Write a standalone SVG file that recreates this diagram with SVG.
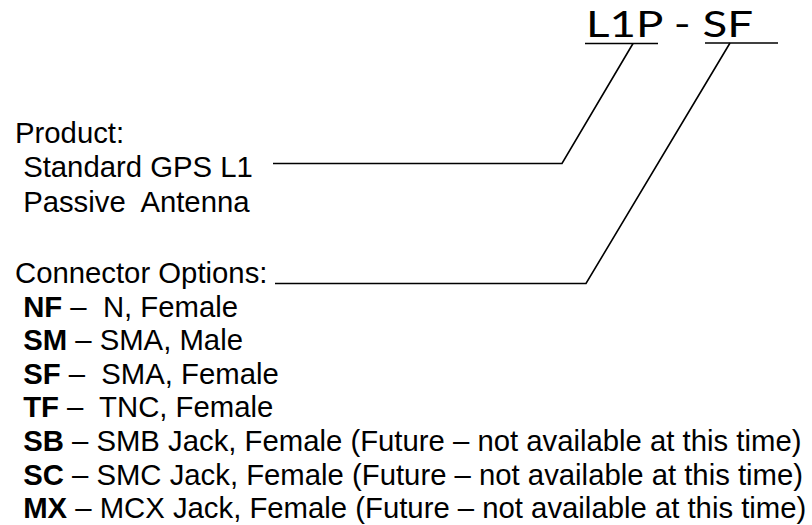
<svg xmlns="http://www.w3.org/2000/svg" width="812" height="525" viewBox="0 0 812 525">
<style>
.t{font-family:"Liberation Sans",Arial,sans-serif;font-size:29.3px;fill:#000}
.b{font-weight:bold}
.code{font-family:"Lato","Liberation Sans",sans-serif;font-size:36px;fill:#000}
.ln{stroke:#000;stroke-width:1.6;fill:none}
</style>
<rect width="812" height="525" fill="#fff"/>
<g id="code">
<text class="code" x="586" y="37" textLength="167" lengthAdjust="spacingAndGlyphs">L1P - SF</text>
</g>
<g id="connectors">
<line class="ln" x1="585" y1="43.5" x2="658" y2="43.5"/>
<line class="ln" x1="705" y1="43" x2="778" y2="43"/>
<polyline class="ln" points="633,43.5 562,163.5 273,163.5"/>
<polyline class="ln" points="730,43 586,283.5 275,283.5"/>
</g>
<g id="product">
<text class="t" x="15" y="143">Product:</text>
<text class="t" x="15" y="177" xml:space="preserve"> Standard GPS L1</text>
<text class="t" x="15" y="212" xml:space="preserve"> Passive  Antenna</text>
</g>
<g id="options">
<text class="t" x="15" y="283">Connector Options:</text>
<text class="t" x="15" y="317" xml:space="preserve"> <tspan class="b">NF</tspan> –  N, Female</text>
<text class="t" x="15" y="350" xml:space="preserve"> <tspan class="b">SM</tspan> – SMA, Male</text>
<text class="t" x="15" y="384" xml:space="preserve"> <tspan class="b">SF</tspan> –  SMA, Female</text>
<text class="t" x="15" y="417" xml:space="preserve"> <tspan class="b">TF</tspan> –  TNC, Female</text>
<text class="t" x="15" y="451" xml:space="preserve"> <tspan class="b">SB</tspan> – SMB Jack, Female (Future – not available at this time)</text>
<text class="t" x="15" y="485" xml:space="preserve"> <tspan class="b">SC</tspan> – SMC Jack, Female (Future – not available at this time)</text>
<text class="t" x="15" y="518" xml:space="preserve"> <tspan class="b">MX</tspan> – MCX Jack, Female (Future – not available at this time)</text>
</g>
</svg>
